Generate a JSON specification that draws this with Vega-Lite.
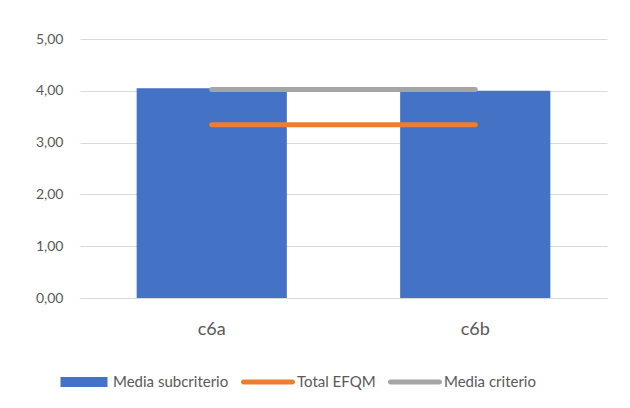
{
  "$schema": "https://vega.github.io/schema/vega-lite/v6.json",
  "width": 527,
  "height": 259,
  "autosize": "none",
  "padding": {"left": 80, "top": 39, "right": 23, "bottom": 110},
  "background": "white",
  "config": {"view": {"stroke": null}, "font": "Lato"},
  "data": {
    "values": [
      {"cat": "c6a", "serie": "Media subcriterio", "valor": 4.05},
      {"cat": "c6b", "serie": "Media subcriterio", "valor": 4.0},
      {"cat": "c6a", "serie": "Total EFQM", "valor": 3.345},
      {"cat": "c6b", "serie": "Total EFQM", "valor": 3.345},
      {"cat": "c6a", "serie": "Media criterio", "valor": 4.025},
      {"cat": "c6b", "serie": "Media criterio", "valor": 4.025}
    ]
  },
  "encoding": {
    "x": {
      "field": "cat", "type": "nominal", "title": null,
      "scale": {"paddingInner": 0.43, "paddingOuter": 0.215},
      "axis": {"labelAngle": 0, "labelFontSize": 18, "labelColor": "#595959", "labelPadding": 22, "domain": false, "ticks": false}
    },
    "y": {
      "field": "valor", "type": "quantitative", "title": null,
      "scale": {"domain": [0, 5], "nice": false},
      "axis": {"values": [0, 1, 2, 3, 4, 5], "labelExpr": "replace(format(datum.value, '.2f'), '.', ',')", "labelFontSize": 14, "labelColor": "#595959", "labelPadding": 17, "domain": false, "ticks": false, "gridColor": "#d9d9d9", "gridWidth": 1}
    },
    "color": {
      "field": "serie", "type": "nominal", "title": null,
      "scale": {"domain": ["Media subcriterio", "Total EFQM", "Media criterio"], "range": ["#4472C4", "#ED7D31", "#A5A5A5"]},
      "legend": {
        "orient": "none", "direction": "horizontal", "legendX": -21, "legendY": 318,
        "labelFontSize": 15, "labelColor": "#595959", "labelOffset": 4, "columnPadding": 12,
        "symbolSize": 2500, "gridAlign": "none",
        "encode": {
          "symbols": {
            "update": {
              "shape": {"signal": "datum.value === 'Media subcriterio' ? 'M-0.94,-0.2H0.94V0.2H-0.94Z' : 'M-0.98,-0.1H0.98A0.1,0.1 0 0 1 0.98,0.1H-0.98A0.1,0.1 0 0 1 -0.98,-0.1Z'"},
              "fill": {"signal": "scale('color', datum.value)"},
              "fillOpacity": {"value": 1},
              "strokeWidth": {"value": 0}
            }
          }
        }
      }
    }
  },
  "layer": [
    {
      "transform": [{"filter": "datum.serie === 'Media subcriterio'"}],
      "mark": {"type": "bar"}
    },
    {
      "transform": [{"filter": "datum.serie !== 'Media subcriterio'"}],
      "mark": {"type": "line", "strokeWidth": 5, "strokeCap": "round"},
      "encoding": {"detail": {"field": "serie"}}
    }
  ]
}
